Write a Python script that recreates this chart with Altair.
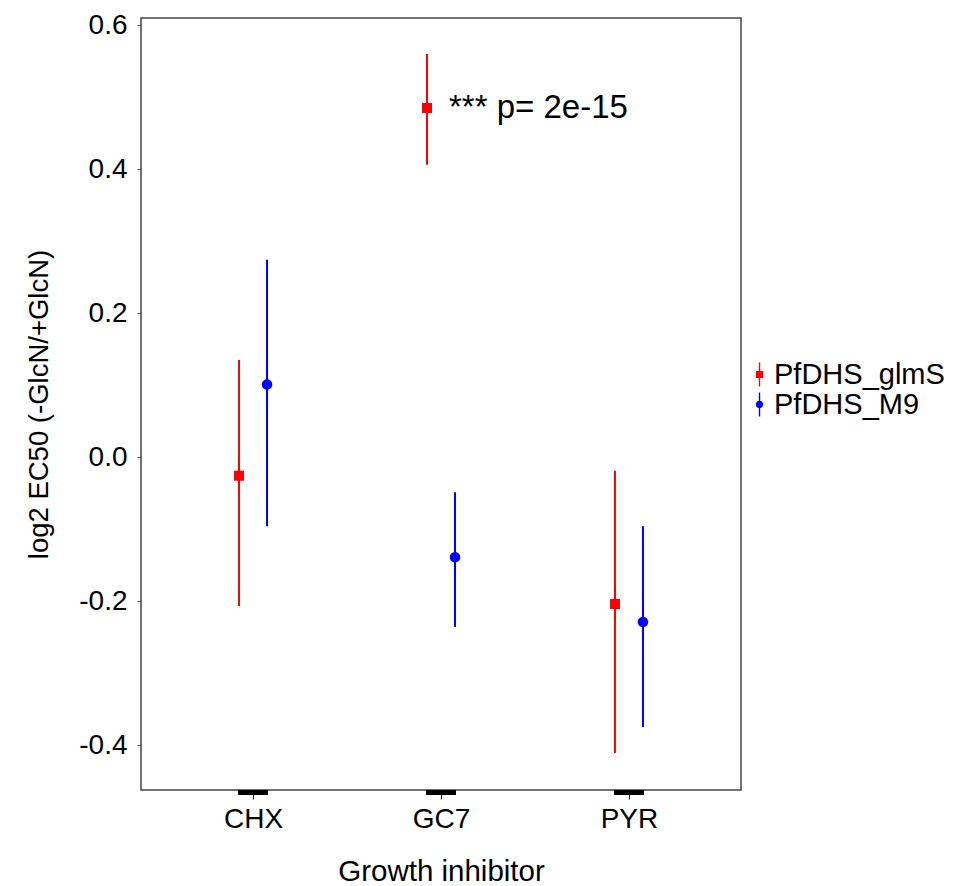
import altair as alt
import pandas as pd

inhibitors = ["CHX", "CHX", "GC7", "GC7", "PYR", "PYR"]
series = ["PfDHS_glmS", "PfDHS_M9", "PfDHS_glmS", "PfDHS_M9", "PfDHS_glmS", "PfDHS_M9"]
estimate = [-0.026, 0.101, 0.485, -0.139, -0.204, -0.229]
upper = [0.135, 0.274, 0.560, -0.049, -0.019, -0.096]
lower = [-0.207, -0.096, 0.406, -0.236, -0.411, -0.375]

categories = ["CHX", "GC7", "PYR"]
series_names = ["PfDHS_glmS", "PfDHS_M9"]
colors = ["#FF0000", "#0000FF"]
y_ticks = [-0.4, -0.2, 0.0, 0.2, 0.4, 0.6]

annot_cat = ["GC7"]
annot_val = [0.485]
annot_text = ["*** p= 2e-15"]

df = pd.DataFrame({"inhibitor": inhibitors, "series": series,
                   "est": estimate, "hi": upper, "lo": lower})
ann = pd.DataFrame({"inhibitor": annot_cat, "est": annot_val, "label": annot_text})
cats = pd.DataFrame({"inhibitor": categories})

FONT = "Liberation Sans"

square_path = "M-0.2,-3.4H0.2V3.4H-0.2Z M-1,-1H1V1H-1Z"
circle_path = ("M-0.2,-3.4H0.2V3.4H-0.2Z "
               "M-1.05,0A1.05,1.05 0 1,1 1.05,0A1.05,1.05 0 1,1 -1.05,0Z")

xscale = alt.Scale(type="point", domain=categories, padding=0.596)
yscale = alt.Scale(domain=[-0.4625, 0.61], nice=False, zero=False)
offscale = alt.Scale(type="point", domain=series_names, range=[-14, 14], padding=0)
colscale = alt.Scale(domain=series_names, range=colors)
shapescale = alt.Scale(domain=series_names, range=[square_path, circle_path])

x_enc = alt.X("inhibitor:N", scale=xscale, sort=categories,
              axis=alt.Axis(title="Growth inhibitor", labelAngle=0, domain=False,
                            ticks=True, tickSize=9, tickColor="#000000", tickWidth=1,
                            labelFontSize=28, labelPadding=6, titleFontSize=29.5,
                            titleFontWeight="normal", titlePadding=24, labelColor="#000",
                            titleColor="#000", grid=False))
y_axis = alt.Axis(title="log2 EC50 (-GlcN/+GlcN)", values=y_ticks,
                  labelExpr="datum.value < 0 ? '-' + format(-datum.value, '.1f') : format(datum.value, '.1f')",
                  domain=False, tickSize=4, tickColor="#555", labelFontSize=28,
                  labelPadding=10, titleFontSize=27.5, titleFontWeight="normal",
                  titlePadding=25, labelColor="#000", titleColor="#000", grid=False)

legend = alt.Legend(title=None, orient="none", legendX=604, legendY=342,
                    labelFontSize=29, symbolSize=49, symbolStrokeWidth=0,
                    rowPadding=0, labelOffset=0, labelLimit=400, labelColor="#000",
                    labelFont=FONT)

base = alt.Chart(df)

points = base.mark_point(filled=True, opacity=1, size=100, strokeWidth=0).encode(
    x=x_enc,
    xOffset=alt.XOffset("series:N", scale=offscale),
    y=alt.Y("est:Q", scale=yscale, axis=y_axis),
    color=alt.Color("series:N", scale=colscale, legend=legend),
    shape=alt.Shape("series:N", scale=shapescale, legend=legend),
)

bars = base.mark_rule(strokeWidth=2).encode(
    x=alt.X("inhibitor:N", scale=xscale),
    xOffset=alt.XOffset("series:N", scale=offscale),
    y=alt.Y("lo:Q", scale=yscale),
    y2="hi:Q",
    color=alt.Color("series:N", scale=colscale),
)

ticks = alt.Chart(cats).mark_tick(orient="horizontal", color="#000000", thickness=5,
                                  size=30, opacity=1, clip=False).encode(
    x=alt.X("inhibitor:N", scale=xscale),
    y=alt.value(774.5),
)

annot = alt.Chart(ann).mark_text(align="left", baseline="middle", dx=8, fontSize=33,
                                 font=FONT, color="#000").encode(
    x=alt.X("inhibitor:N", scale=xscale),
    y=alt.Y("est:Q", scale=yscale),
    text="label:N",
)

chart = alt.layer(points, bars, ticks, annot).properties(
    width=600, height=772,
    autosize=alt.AutoSizeParams(type="none"),
    padding={"left": 133, "top": 10, "right": 210, "bottom": 100},
).configure(font=FONT).configure_view(stroke="#444", strokeWidth=1.5).configure_axis(
    labelFont=FONT, titleFont=FONT)

chart.save("out.html", embed_options={"renderer": "svg", "actions": False})
